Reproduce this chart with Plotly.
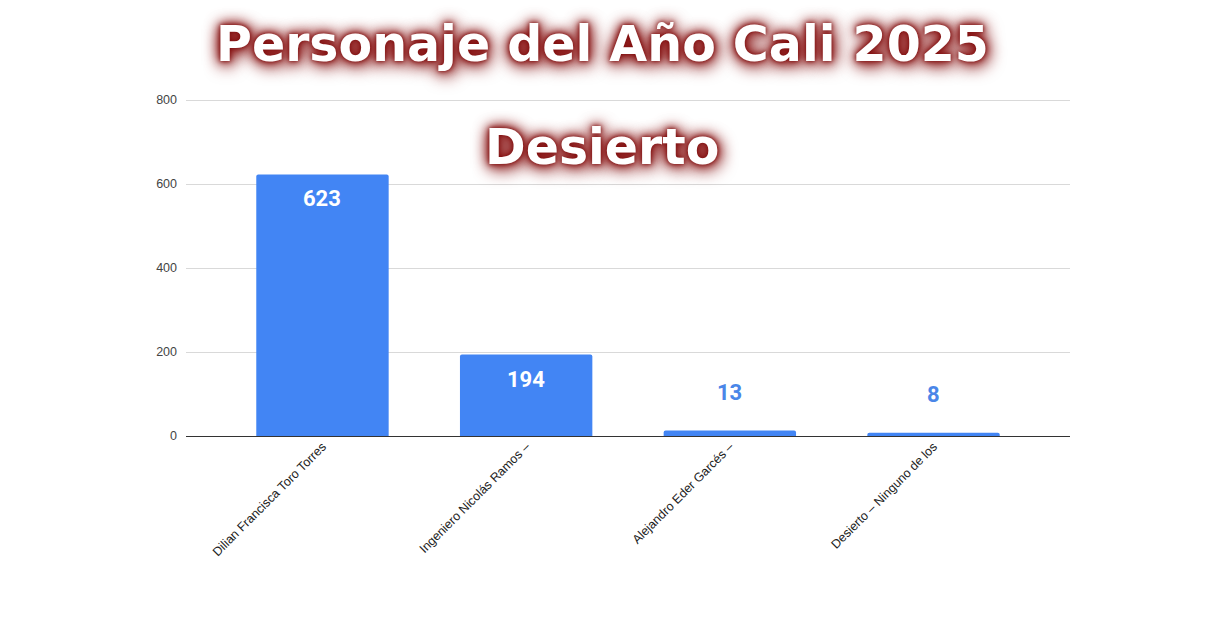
import plotly.graph_objects as go

categories = ["Dilian Francisca Toro Torres", "Ingeniero Nicolás Ramos –",
              "Alejandro Eder Garcés –", "Desierto – Ninguno de los"]
votes = [623, 194, 13, 8]
y_ticks = [0, 200, 400, 600, 800]
title_line1 = "Personaje del Año Cali 2025"
title_line2 = "Desierto"

bar_color = "#4285f4"

fig = go.Figure()
fig.add_trace(go.Bar(
    x=list(range(len(categories))), y=votes,
    marker=dict(color=bar_color, line=dict(width=0), cornerradius=2),
    width=0.65, hoverinfo="skip",
))

annotations = []
for i, v in enumerate(votes):
    inside = v > 100
    annotations.append(dict(
        x=i, y=v, xref="x", yref="y", text=str(v), showarrow=False,
        yanchor="top" if inside else "bottom",
        yshift=-10 if inside else 24,
        font=dict(family="Roboto", size=22, weight="bold",
                  color="white" if inside else "#4a86e8"),
    ))

shadow = ("0px 0px 4px #7a0a0a, 0px 0px 10px #8b1111, "
          "0px 0px 16px #8b1111, 2px 4px 18px #7a0a0a")

fig.update_layout(
    width=1229, height=640,
    margin=dict(l=186, r=159, t=98, b=204),
    paper_bgcolor="white", plot_bgcolor="white",
    showlegend=False,
    xaxis=dict(
        range=[-0.67, 3.67],
        tickmode="array", tickvals=list(range(len(categories))), ticktext=categories,
        tickangle=-45, ticks="", showgrid=False, zeroline=False,
        showline=False,
        tickfont=dict(family="Liberation Sans", size=12.5, color="#222222"),
    ),
    yaxis=dict(
        range=[0, 805], tickmode="array", tickvals=y_ticks,
        showgrid=True, gridcolor="#d9d9d9", gridwidth=1,
        zeroline=True, zerolinecolor="#333333", zerolinewidth=1,
        ticks="", showline=False, ticklabelstandoff=8,
        tickfont=dict(family="Liberation Sans", size=12.5, color="#444444"),
    ),
    annotations=annotations + [
        dict(x=0.5, y=1.0, xref="paper", yref="paper", yshift=54, xshift=-26,
             text=title_line1, showarrow=False, yanchor="middle",
             font=dict(family="DejaVu Sans", size=49, weight="bold", color="white", shadow=shadow)),
        dict(x=0.5, y=1.0, xref="paper", yref="paper", yshift=-49, xshift=-26,
             text=title_line2, showarrow=False, yanchor="middle",
             font=dict(family="DejaVu Sans", size=49, weight="bold", color="white", shadow=shadow)),
    ],
)

fig.write_html("out.html")
